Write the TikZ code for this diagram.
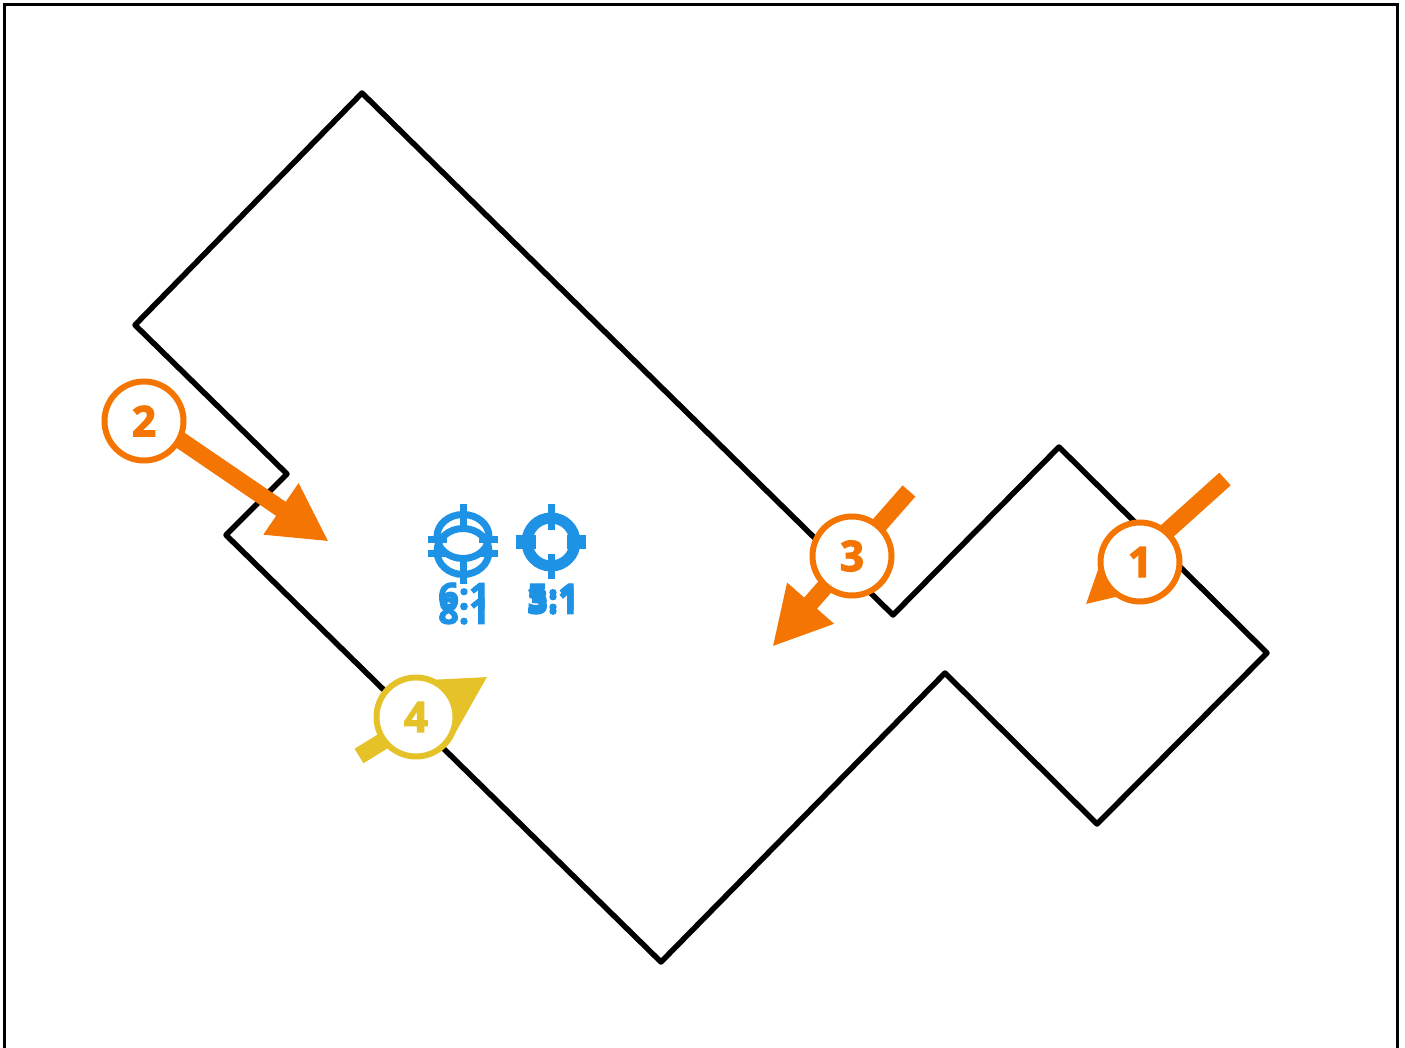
\documentclass[tikz,border=0pt]{standalone}
\usepackage{fontspec}
\setmainfont{Open Sans}[BoldFeatures={FakeBold=3}]
\usetikzlibrary{arrows.meta}
\definecolor{mk}{HTML}{F57503}
\definecolor{mky}{HTML}{E6C229}
\definecolor{tg}{HTML}{1E93E6}
\tikzset{
  frameline/.style={draw=black,line width=3pt},
  wall/.style={draw=black,line width=5.5pt,line join=round},
  callout/.style={circle,draw=#1,fill=white,line width=6pt,minimum size=79pt,inner sep=0pt,text=#1,font=\fontsize{42}{42}\selectfont\bfseries},
  flow/.style={draw=#1,line width=17pt,-{Triangle[length=58pt,width=58pt,fill=#1]},shorten >=-1pt},
  tgtick/.style={draw=tg,line width=#1},
  tgtext/.style={text=tg,inner sep=0pt,font=\fontsize{36}{36}\selectfont\bfseries}
}
\begin{document}
\begin{tikzpicture}[x=1pt,y=-1pt]
\useasboundingbox (0,0) rectangle (1405,1048);
\fill[white] (0,0) rectangle (1405,1048);
\draw[frameline] (4.5,1050) -- (4.5,5) -- (1397,5) -- (1397,1050);
\draw[wall] (362,93) -- (893,615) -- (1059,447) -- (1267,653) -- (1097,824) -- (945,673) -- (661,962) -- (226,535) -- (287,474) -- (135,325) -- cycle;
% targets
\draw[tg,line width=7pt] (463,536.5) ellipse [x radius=26,y radius=22];
\draw[tg,line width=7pt] (463,551.5) ellipse [x radius=26,y radius=23];
\draw[tgtick=7pt] (463,504) -- (463,530);
\draw[tgtick=7pt] (463,556) -- (463,584);
\foreach \yc in {539,553}{
  \draw[tgtick=7pt] (428,\yc) -- (447,\yc);
  \draw[tgtick=7pt] (479,\yc) -- (498,\yc);
}
\draw[tg,line width=11pt] (551,542) circle (24);
\draw[tgtick=7pt] (551,504) -- (551,530);
\draw[tgtick=7pt] (551,554) -- (551,579);
\draw[tgtick=14pt] (516,541.5) -- (536,541.5);
\draw[tgtick=14pt] (567,541.5) -- (586,541.5);
\node[tgtext] (t61) at (464,596) {6:1};
\node[tgtext] (t81) at (464,611) {8:1};
\node[tgtext] (t51) at (553,597) {5:1};
\node[tgtext] (t31) at (553,601) {3:1};
% callouts
\coordinate (tail1) at (1225,479);
\coordinate (tip1) at (1086,604);
\coordinate (tip2) at (328,541);
\coordinate (tail3) at (909,491);
\coordinate (tip3) at (773,646);
\coordinate (tail4) at (359,756);
\coordinate (tip4) at (487,677);
\coordinate (tail2) at (145,416);
\draw[flow=mk] (tail1) -- (tip1);
\draw[flow=mk] (tail2) -- (tip2);
\draw[flow=mk] (tail3) -- (tip3);
\draw[flow=mky] (tail4) -- (tip4);
\node[callout=mk] (c1) at (1140,562) {\raisebox{-1.5pt}{1}};
\node[callout=mk] (c2) at (144,421) {\raisebox{-1.5pt}{2}};
\node[callout=mk] (c3) at (852,556) {\raisebox{-1.5pt}{3}};
\node[callout=mky] (c4) at (416,717) {\raisebox{-1.5pt}{4}};
\end{tikzpicture}
\end{document}
